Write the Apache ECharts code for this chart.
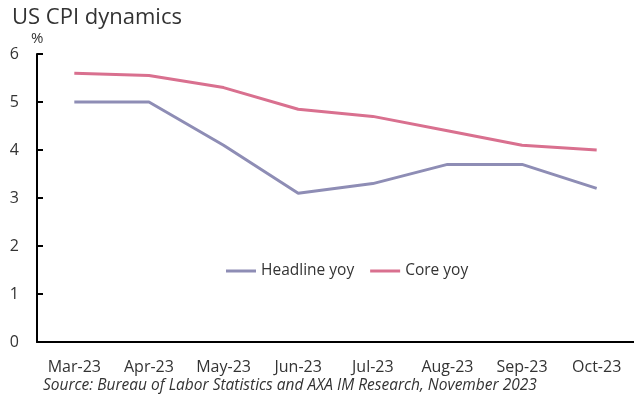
<!DOCTYPE html>
<html><head><meta charset="utf-8">
<script src="https://cdn.jsdelivr.net/npm/echarts@6/dist/echarts.min.js"></script>
<style>html,body{margin:0;padding:0;background:#fff}#c{width:634px;height:396px}</style>
</head><body><div id="c"></div>
<script>
const categories = ['Mar-23','Apr-23','May-23','Jun-23','Jul-23','Aug-23','Sep-23','Oct-23'];
const headline = [5.0, 5.0, 4.1, 3.1, 3.3, 3.7, 3.7, 3.2];
const core = [5.6, 5.55, 5.3, 4.85, 4.7, 4.4, 4.1, 4.0];
const yTicks = [0,1,2,3,4,5,6];
const FONT = '"Open Sans", "Liberation Sans", sans-serif';
const chart = echarts.init(document.getElementById('c'));
chart.setOption({
  animation: false,
  title: [{
    text: 'US CPI dynamics', left: 7, top: 2,
    textStyle: {fontFamily: FONT, fontSize: 22, fontWeight: 'normal', color: '#333'}
  },{
    text: 'Source: Bureau of Labor Statistics and AXA IM Research, November 2023',
    left: 38, top: 373,
    textStyle: {fontFamily: FONT, fontSize: 15.5, fontWeight: 'normal', fontStyle: 'italic', color: '#333'}
  }],
  legend: {
    data: ['Headline yoy','Core yoy'], left: 221, top: 258,
    itemWidth: 30, itemHeight: 3, itemGap: 16,
    icon: 'rect',
    textStyle: {fontFamily: FONT, fontSize: 15.5, color: '#333'}
  },
  grid: {left: 37, right: 0, top: 54, bottom: 54, containLabel: false},
  xAxis: {
    type: 'category', data: categories, boundaryGap: true,
    axisLine: {lineStyle: {color: '#000', width: 2}},
    axisTick: {inside: true, length: 6, lineStyle: {color: '#000', width: 2}},
    axisLabel: {fontFamily: FONT, fontSize: 16, color: '#333', margin: 17}
  },
  yAxis: {
    type: 'value', min: 0, max: 6, interval: 1,
    name: '%', nameLocation: 'end', nameGap: 8,
    nameTextStyle: {fontFamily: FONT, fontSize: 15, color: '#333', align: 'left', padding: [0,0,0,-6]},
    axisLine: {show: true, lineStyle: {color: '#000', width: 2}},
    axisTick: {show: true, inside: true, length: 6, lineStyle: {color: '#000', width: 2}},
    splitLine: {show: false},
    axisLabel: {fontFamily: FONT, fontSize: 16, color: '#333', margin: 18,
      formatter: v => yTicks.includes(v) ? String(v) : ''}
  },
  series: [{
    name: 'Headline yoy', type: 'line', data: headline, symbol: 'none',
    lineStyle: {color: '#8e8db5', width: 3}, itemStyle: {color: '#8e8db5'}
  },{
    name: 'Core yoy', type: 'line', data: core, symbol: 'none',
    lineStyle: {color: '#d9708f', width: 3}, itemStyle: {color: '#d9708f'}
  }]
});
</script></body></html>
